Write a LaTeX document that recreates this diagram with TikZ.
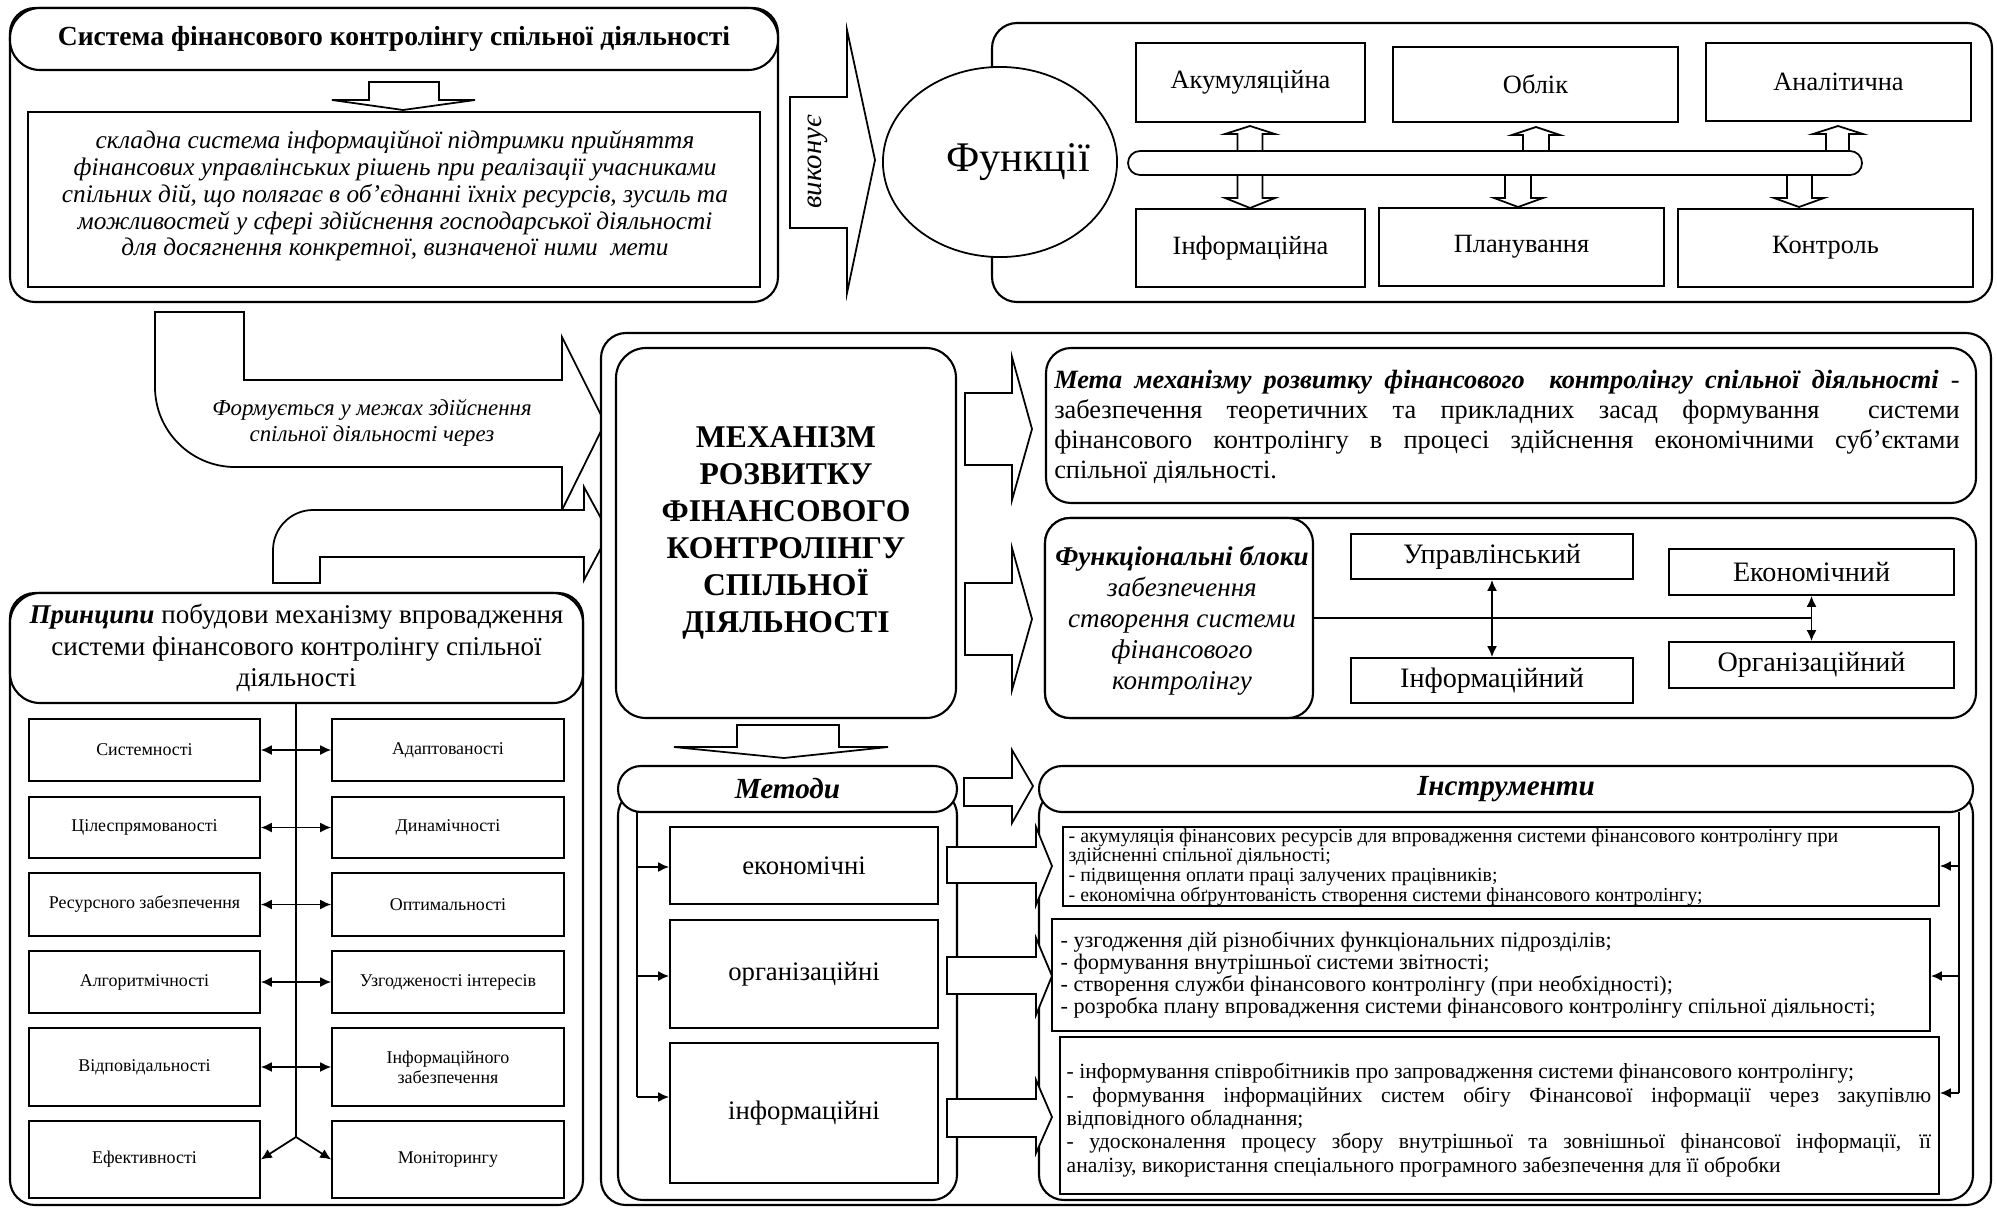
\documentclass[tikz,border=0pt]{standalone}
\usepackage{fontspec}
\setmainfont{Liberation Serif}
\usetikzlibrary{arrows.meta,shapes.geometric}
\newcommand\F[2]{\fontsize{#1pt}{#2pt}\selectfont}
\newcommand\bx[7]{\node[#2, minimum width={(#5-#3)*0.01cm}, minimum height={(#6-#4)*0.01cm}] (#1) at ({(#3+#5)/2},{(#4+#6)/2}) {#7};}
\begin{document}
\begin{tikzpicture}[x=0.01cm,y=-0.01cm, >={Latex[length=1.1mm,width=1mm]},
 bxs/.style={draw, line width=0.5pt, fill=white, inner sep=0pt, align=center},
 rbx/.style={bxs, line width=0.6pt, rounded corners=0.25cm},
 pbx/.style={bxs, line width=0.45pt, font=\F{5.1}{5.7}},
 fbx/.style={bxs, font=\F{7.5}{8}},
 mbx/.style={bxs, font=\F{7.6}{8}},
 barrow/.style={draw, line width=0.5pt, fill=white, line join=miter},
 con/.style={line width=0.5pt},
]
\useasboundingbox (0,0) rectangle (1997,1209);

% ---------- top-left block
\bx{sysouter}{rbx}{10}{8}{778}{302}{}
\bx{systitle}{rbx, rounded corners=0.3cm, font=\F{7.85}{9}\bfseries}{10}{8}{778}{70}{Система фінансового контролінгу спільної діяльності}
\draw[barrow] (369,82) -- (439,82) -- (439,100) -- (475,100) -- (403,110) -- (332,100) -- (369,100) -- cycle;
\bx{sysdef}{bxs}{28}{112}{760}{287}{}
\node[align=center, font=\F{7.2}{5.95}\itshape] (sysdeftext) at (395,196) {складна система інформаційної підтримки прийняття\\ фінансових управлінських рішень при реалізації учасниками\\ спільних дій, що полягає в об’єднанні їхніх ресурсів, зусиль та\\ можливостей у сфері здійснення господарської діяльності\\ для досягнення конкретної, визначеної ними\ \ мети};

% ---------- "виконує" arrow
\draw[barrow] (790,97) -- (847,97) -- (847,30) -- (875,160) -- (847,293) -- (847,228) -- (790,228) -- cycle;
\node[rotate=90, font=\F{8.2}{9}\itshape] (vykon) at (818,162) {виконує};

% ---------- functions block
\bx{funouter}{rbx}{992}{23}{1992}{302}{}
\node[draw, ellipse, line width=0.5pt, fill=white, minimum width=2.34cm, minimum height=1.9cm, inner sep=0pt] (fun) at (1000,162) {};
\node[font=\F{12}{13}] (funtext) at (1018,162) {Функції};
\bx{akum}{fbx}{1136}{43}{1365}{122}{Акумуляційна}
\bx{oblik}{fbx}{1393}{47}{1678}{122}{Облік}
\bx{anal}{fbx}{1706}{43}{1971}{121}{Аналітична}
\bx{info}{fbx}{1136}{209}{1365}{287}{Інформаційна}
\bx{plan}{fbx}{1379}{208}{1664}{286}{Планування}
\bx{kontr}{fbx}{1678}{209}{1973}{287}{Контроль}
% up arrows
\draw[barrow] (1250,126) -- (1275,134) -- (1262.5,134) -- (1262.5,163) -- (1237.5,163) -- (1237.5,134) -- (1225,134) -- cycle;
\draw[barrow] (1536,127) -- (1560,135) -- (1549,135) -- (1549,163) -- (1523,163) -- (1523,135) -- (1512,135) -- cycle;
\draw[barrow] (1838,126) -- (1863,134) -- (1849,134) -- (1849,163) -- (1826,163) -- (1826,134) -- (1813,134) -- cycle;
% down arrows
\draw[barrow] (1237.5,163) -- (1262.5,163) -- (1262.5,198) -- (1275,198) -- (1250,208) -- (1225,198) -- (1237.5,198) -- cycle;
\draw[barrow] (1505,163) -- (1531,163) -- (1531,198) -- (1543,198) -- (1518,207) -- (1494,198) -- (1505,198) -- cycle;
\draw[barrow] (1787,163) -- (1812,163) -- (1812,198) -- (1824,198) -- (1799,207) -- (1774,198) -- (1787,198) -- cycle;
% bar
\draw[barrow, rounded corners=0.12cm] (1128,151) rectangle (1862,175);

% ---------- bent arrows
\draw[barrow] (244,312) -- (244,380) -- (562,380) -- (562,337) -- (605,423) -- (562,510) -- (562,467) -- (235,467) .. controls (191,467) and (155,431) .. (155,387) -- (155,312) -- cycle;
\node[align=center, font=\F{6.5}{7.5}\itshape] (formtext) at (372,423) {Формується у межах здійснення\\ спільної діяльності через};
\draw[barrow] (273,583) -- (273,550) .. controls (273,528) and (291,510) .. (313,510) -- (584,510) -- (584,487) -- (609,533) -- (584,580) -- (584,557) -- (320,557) -- (320,583) -- cycle;

% ---------- principles block
\bx{prouter}{rbx}{10}{593}{583}{1205}{}
\bx{prtitle}{rbx, rounded corners=0.3cm, font=\F{7.7}{9}}{10}{593}{583}{703}{\textbf{\textit{Принципи}} побудови механізму впровадження\\ системи фінансового контролінгу спільної\\ діяльності}
\bx{p1}{pbx}{29}{719}{260}{781}{Системності}
\bx{p2}{pbx}{29}{797}{260}{858}{Цілеспрямованості}
\bx{p3}{pbx}{29}{873}{260}{936}{Ресурсного забезпечення}
\bx{p4}{pbx}{29}{951}{260}{1013}{Алгоритмічності}
\bx{p5}{pbx}{29}{1028}{260}{1106}{Відповідальності}
\bx{p6}{pbx}{29}{1121}{260}{1198}{Ефективності}
\bx{q1}{pbx}{332}{719}{564}{781}{Адаптованості}
\bx{q2}{pbx}{332}{797}{564}{858}{Динамічності}
\bx{q3}{pbx}{332}{873}{564}{936}{Оптимальності}
\bx{q4}{pbx}{332}{951}{564}{1013}{Узгодженості інтересів}
\bx{q5}{pbx}{332}{1028}{564}{1106}{Інформаційного\\ забезпечення}
\bx{q6}{pbx}{332}{1121}{564}{1198}{Моніторингу}
\coordinate (split) at (296,1137);
\draw[con] (prtitle.south -| split) -- (split);
\draw[con,->] (split) -- (p6.east);
\draw[con,->] (split) -- (q6.west);
\foreach \i in {1,...,5}{\draw[con,<->] (p\i.east) -- (q\i.west);}

% ---------- mechanism block
\bx{mechouter}{rbx}{601}{333}{1991}{1205}{}
\bx{mech}{rbx, rounded corners=0.3cm, font=\F{9}{10.5}\bfseries}{616}{348}{956}{718}{МЕХАНІЗМ\\ РОЗВИТКУ\\ ФІНАНСОВОГО\\ КОНТРОЛІНГУ\\ СПІЛЬНОЇ\\ ДІЯЛЬНОСТІ}
\draw[barrow] (965,393) -- (1012,393) -- (1012,357) -- (1032,429) -- (1012,500) -- (1012,465) -- (965,465) -- cycle;
\draw[barrow] (965,583) -- (1012,583) -- (1012,548) -- (1032,619) -- (1012,690) -- (1012,655) -- (965,655) -- cycle;
\bx{meta}{rbx}{1046}{348}{1976}{503}{}
\node[align=left, font=\F{7.5}{8.5}, inner sep=0pt] (metatext) at (1507,427) {\makebox[9.05cm][s]{\textbf{\textit{Мета механізму розвитку фінансового\ \ контролінгу спільної діяльності}} -}\\ \makebox[9.05cm][s]{забезпечення теоретичних та прикладних засад формування\ \ системи}\\ \makebox[9.05cm][s]{фінансового контролінгу в процесі здійснення економічними суб’єктами}\\ спільної діяльності.};
\bx{fbouter}{rbx}{1045}{518}{1976}{718}{}
\bx{fblabel}{rbx}{1045}{518}{1313}{718}{}
\node[align=center, font=\F{7.7}{8.8}\itshape] (fbtext) at (1182,621) {\textbf{Функціональні блоки}\\ забезпечення\\ створення системи\\ фінансового\\ контролінгу};
\bx{upr}{fbx, font=\F{8}{9}}{1351}{534}{1633}{579}{Управлінський}
\bx{inf}{fbx, font=\F{8}{9}}{1351}{658}{1633}{703}{Інформаційний}
\bx{eco}{fbx, font=\F{8}{9}}{1669}{549}{1954}{595}{Економічний}
\bx{org}{fbx, font=\F{8}{9}}{1669}{642}{1954}{688}{Організаційний}
\draw[con,<->] (upr.south) -- (inf.north);
\draw[con,<->] (eco.south) -- (org.north);
\draw[con] (fblabel.east) -- (fblabel.east -| eco.south);
\draw[barrow] (737,725) -- (839,725) -- (839,747) -- (888,747) -- (784,758) -- (674,747) -- (737,747) -- cycle;

% ---------- methods
\bx{metouter}{rbx}{618}{790}{957}{1200}{}
\bx{mettitle}{rbx, rounded corners=0.23cm, font=\F{8.3}{9}\bfseries\itshape}{618}{766}{957}{812}{Методи}
\bx{mec}{mbx}{670}{827}{938}{904}{економічні}
\bx{morg}{mbx}{670}{920}{938}{1028}{організаційні}
\bx{minf}{mbx}{670}{1043}{938}{1183}{інформаційні}
\coordinate (mtop) at (637,812);
\coordinate (ml1) at (637,867);
\coordinate (ml2) at (637,976);
\coordinate (ml3) at (637,1097);
\draw[con] (mtop) -- (ml3);
\draw[con,->] (ml1) -- (ml1 -| mec.west);
\draw[con,->] (ml2) -- (ml2 -| morg.west);
\draw[con,->] (ml3) -- (ml3 -| minf.west);

% ---------- instruments
\bx{instouter}{rbx}{1039}{790}{1973}{1200}{}
\bx{insttitle}{rbx, rounded corners=0.23cm, font=\F{8.3}{9}\bfseries\itshape}{1039}{766}{1973}{812}{Інструменти}
\bx{ins1}{bxs}{1063}{827}{1939}{906}{}
\bx{ins2}{bxs}{1052}{919}{1930}{1031}{}
\bx{ins3}{bxs}{1060}{1037}{1939}{1194}{}
\node[anchor=west, align=left, inner sep=0pt, font=\F{5.65}{5.6}] (ins1t) at (1068,867) {- акумуляція фінансових ресурсів для впровадження системи фінансового контролінгу при\\ здійсненні спільної діяльності;\\ - підвищення оплати праці залучених працівників;\\ - економічна обґрунтованість створення системи фінансового контролінгу;};
\node[anchor=west, align=left, inner sep=0pt, font=\F{6.3}{6.2}] (ins2t) at (1060,975) {- узгодження дій різнобічних функціональних підрозділів;\\ - формування внутрішньої системи звітності;\\ - створення служби фінансового контролінгу (при необхідності);\\ - розробка плану впровадження системи фінансового контролінгу спільної діяльності;};
\node[anchor=west, align=left, inner sep=0pt, font=\F{6.15}{5.55}] (ins3t) at (1066,1120) {- інформування співробітників про запровадження системи фінансового контролінгу;\\ \makebox[8.64cm][s]{- формування інформаційних систем обігу Фінансової інформації через закупівлю}\\ відповідного обладнання;\\ \makebox[8.64cm][s]{- удосконалення процесу збору внутрішньої та зовнішньої фінансової інформації, її}\\ аналізу, використання спеціального програмного забезпечення для її обробки};
\coordinate (itop) at (1959,812);
\coordinate (ir1) at (1959,866);
\coordinate (ir2) at (1959,976);
\coordinate (ir3) at (1959,1093);
\draw[con] (itop) -- (ir3);
\draw[con,->] (ir1) -- (ir1 -| ins1.east);
\draw[con,->] (ir2) -- (ir2 -| ins2.east);
\draw[con,->] (ir3) -- (ir3 -| ins3.east);

% ---------- block arrows methods -> instruments
\draw[barrow] (964,778) -- (1012,778) -- (1012,750) -- (1033,786) -- (1012,823) -- (1012,806) -- (964,806) -- cycle;
\draw[barrow] (947,847) -- (1036,847) -- (1036,827) -- (1052,866) -- (1036,905) -- (1036,883) -- (947,883) -- cycle;
\draw[barrow] (947,957) -- (1036,957) -- (1036,938) -- (1052,976) -- (1036,1015) -- (1036,994) -- (947,994) -- cycle;
\draw[barrow] (947,1099) -- (1036,1099) -- (1036,1080) -- (1052,1117) -- (1036,1153) -- (1036,1137) -- (947,1137) -- cycle;
\end{tikzpicture}
\end{document}
